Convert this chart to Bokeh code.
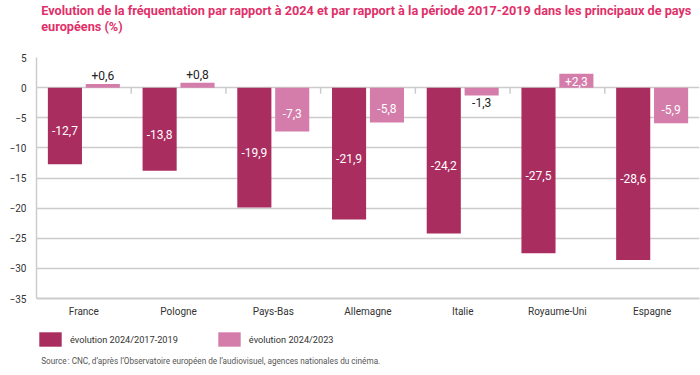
from bokeh.plotting import figure
from bokeh.layouts import column
from bokeh.models import (FactorRange, Range1d, Label, Legend, LegendItem,
                          ColumnDataSource, FixedTicker)
from bokeh.transform import dodge
from bokeh.core.properties import value
from bokeh.embed import file_html
from bokeh.resources import INLINE

categories = ["France", "Pologne", "Pays-Bas", "Allemagne", "Italie", "Royaume-Uni", "Espagne"]
evol_2017_2019 = [-12.7, -13.8, -19.9, -21.9, -24.2, -27.5, -28.6]
evol_2023 = [0.6, 0.8, -7.3, -5.8, -1.3, 2.3, -5.9]
y_ticks = [-35, -30, -25, -20, -15, -10, -5, 0, 5]
series_names = ["évolution 2024/2017-2019", "évolution 2024/2023"]

title_lines = ["Evolution de la fréquentation par rapport à 2024 et par rapport à la période 2017-2019 dans les principaux de pays",
               "européens (%)"]
source_text = "Source\u202f: CNC, d’après l’Observatoire européen de l’audiovisuel, agences nationales du cinéma."

DARK = "#AA2D5F"
LIGHT = "#D47DAA"
TITLE_COLOR = "#E0306A"
GRID = "#cccccc"
FONT = "Roboto"

W = 700
TOP_H, MAIN_H, BOT_H = 50, 270, 55


def fmt(v, sign=False):
    s = f"{v:+.1f}" if sign else f"{v:.1f}"
    return s.replace(".", ",")


def blank(height):
    f = figure(width=W, height=height, x_range=Range1d(0, W), y_range=Range1d(0, height),
               output_backend="svg", toolbar_location=None, min_border=0,
               x_axis_location=None, y_axis_location=None)
    f.title = None
    f.outline_line_color = None
    f.xgrid.grid_line_color = None
    f.ygrid.grid_line_color = None
    f.border_fill_color = "white"
    f.background_fill_color = "white"
    return f


# ---------- title ----------
top = blank(TOP_H)
for i, line in enumerate(title_lines):
    top.add_layout(Label(x=5, y=TOP_H - (9.7 + i * 16.6), text=line,
                         text_font=FONT, text_font_size="12.7px", text_font_style="bold",
                         text_color=TITLE_COLOR, text_baseline="alphabetic"))

# ---------- main chart ----------
src = ColumnDataSource(dict(
    cat=categories,
    a=evol_2017_2019,
    b=evol_2023,
    zero=[0] * len(categories),
))

p = figure(width=W, height=MAIN_H, x_range=FactorRange(*categories, range_padding=0),
           y_range=Range1d(-35, 5), output_backend="svg", toolbar_location=None,
           min_border_left=36, min_border_right=1, min_border_top=7,
           min_border_bottom=22)
p.title = None
p.outline_line_color = None
p.background_fill_color = "white"
p.border_fill_color = "white"

p.xgrid.grid_line_color = None
p.ygrid.ticker = FixedTicker(ticks=y_ticks)
p.ygrid.grid_line_color = GRID
p.ygrid.grid_line_width = 1.5

p.yaxis.ticker = FixedTicker(ticks=y_ticks)
p.yaxis.axis_line_color = GRID
p.yaxis.axis_line_width = 1.5
p.yaxis.major_tick_line_color = None
p.yaxis.minor_tick_line_color = None
p.yaxis.major_tick_out = 0
p.yaxis.major_label_standoff = 10
p.yaxis.major_label_text_font = FONT
p.yaxis.major_label_text_font_size = "10px"
p.yaxis.major_label_text_color = "#333333"

p.xaxis.axis_line_color = GRID
p.xaxis.axis_line_width = 2
p.xaxis.major_tick_line_color = None
p.xaxis.minor_tick_line_color = None
p.xaxis.major_tick_out = 0
p.xaxis.major_label_standoff = 7
p.xaxis.major_label_text_font = FONT
p.xaxis.major_label_text_font_size = "10px"
p.xaxis.major_label_text_color = "#333333"

# boundary ticks below the zero line
bsrc = ColumnDataSource(dict(cat=categories[:-1], y0=[0] * (len(categories) - 1),
                             y1=[-1] * (len(categories) - 1)))
p.segment(x0=dodge("cat", 0.5, range=p.x_range), y0="y0",
          x1=dodge("cat", 0.5, range=p.x_range), y1="y1", source=bsrc,
          line_color=GRID, line_width=1.5)

p.vbar(x=dodge("cat", -0.2, range=p.x_range), top="a", bottom="zero", width=0.36,
       source=src, fill_color=DARK, line_color=None)
p.vbar(x=dodge("cat", 0.2, range=p.x_range), top="b", bottom="zero", width=0.36,
       source=src, fill_color=LIGHT, line_color=None)

# value labels
a_src = ColumnDataSource(dict(cat=categories,
                              y=[v / 2 - 0.8 for v in evol_2017_2019],
                              t=[fmt(v) for v in evol_2017_2019]))
p.text(x=dodge("cat", -0.2, range=p.x_range), y="y", text="t", source=a_src,
       text_color="white", text_font=value(FONT), text_font_size="12px",
       text_align="center", text_baseline="middle")

b_in_y, b_in_t, b_in_c = [], [], []
b_out_y, b_out_t, b_out_c = [], [], []
for c, v in zip(categories, evol_2023):
    label = fmt(v, sign=v > 0)
    if abs(v) >= 2:
        b_in_c.append(c); b_in_y.append(v / 2 - (0.6 if v < 0 else 0.2)); b_in_t.append(label)
    else:
        b_out_c.append(c)
        b_out_y.append(v + 1.35 if v > 0 else v - 1.2)
        b_out_t.append(label)
p.text(x=dodge("cat", 0.2, range=p.x_range), y="y", text="t",
       source=ColumnDataSource(dict(cat=b_in_c, y=b_in_y, t=b_in_t)),
       text_color="white", text_font=value(FONT), text_font_size="12px",
       text_align="center", text_baseline="middle")
p.text(x=dodge("cat", 0.2, range=p.x_range), y="y", text="t",
       source=ColumnDataSource(dict(cat=b_out_c, y=b_out_y, t=b_out_t)),
       text_color="#222222", text_font=value(FONT), text_font_size="12px",
       text_align="center", text_baseline="middle")

# ---------- legend + source ----------
bot = blank(BOT_H)
# zero-height placeholder bars: only their styling feeds the legend swatches
ph = ColumnDataSource(dict(x=[0], top=[0], bottom=[0]))
lr1 = bot.vbar(x="x", top="top", bottom="bottom", width=0, source=ph,
               fill_color=DARK, line_color=None)
lr2 = bot.vbar(x="x", top="top", bottom="bottom", width=0, source=ph,
               fill_color=LIGHT, line_color=None)
legend = Legend(items=[LegendItem(label=series_names[0], renderers=[lr1]),
                       LegendItem(label=series_names[1], renderers=[lr2])],
                orientation="horizontal", location=(0, BOT_H - 28),
                glyph_width=28, glyph_height=18, label_standoff=6, spacing=37,
                padding=0, margin=0, border_line_color=None, background_fill_alpha=0,
                label_text_font=FONT, label_text_font_size="9.2px",
                label_text_color="#333333", label_height=18)
bot.add_layout(legend)
bot.add_layout(Label(x=5, y=BOT_H - 40, text=source_text, text_font=FONT,
                     text_font_size="8.2px", text_color="#555555",
                     text_baseline="alphabetic"))

layout = column(top, p, bot, spacing=0)
open("out.html", "w").write(file_html(layout, INLINE))
